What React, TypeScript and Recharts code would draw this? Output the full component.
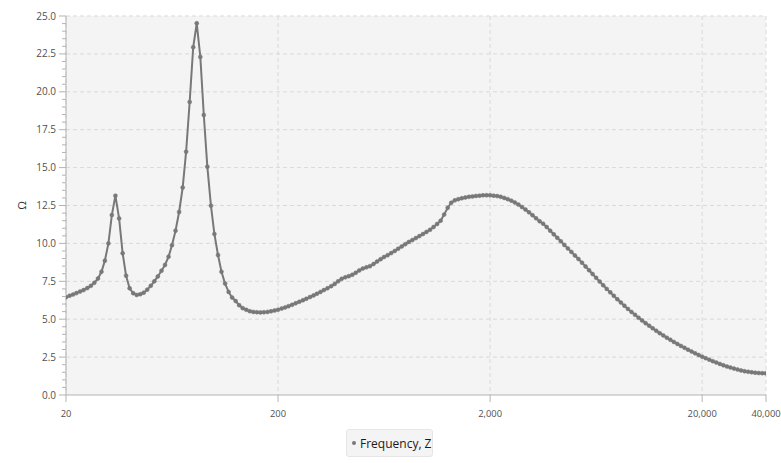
import { CartesianGrid, Line, LineChart, ReferenceLine, XAxis, YAxis } from "recharts";

// frequency (Hz), 60 points per decade
const frequencies = [
  20, 20.8, 21.6, 22.4, 23.3, 24.2, 25.2, 26.2, 27.2, 28.3,
  29.4, 30.5, 31.7, 32.9, 34.2, 35.6, 37.0, 38.4, 39.9, 41.5,
  43.1, 44.8, 46.5, 48.3, 50.2, 52.2, 54.2, 56.4, 58.6, 60.9,
  63.2, 65.7, 68.3, 71.0, 73.7, 76.6, 79.6, 82.7, 86.0, 89.3,
  92.8, 96.5, 100.2, 104.2, 108.2, 112.5, 116.9, 121.4, 126.2, 131.1,
  136.3, 141.6, 147.1, 152.9, 158.9, 165.1, 171.5, 178.3, 185.2, 192.5,
  200, 208, 216, 224, 233, 242, 252, 262, 272, 283,
  294, 305, 317, 329, 342, 356, 370, 384, 399, 415,
  431, 448, 465, 483, 502, 522, 542, 564, 586, 609,
  632, 657, 683, 710, 737, 766, 796, 827, 860, 893,
  928, 965, 1002, 1042, 1082, 1125, 1169, 1214, 1262, 1311,
  1363, 1416, 1471, 1529, 1589, 1651, 1715, 1783, 1852, 1925,
  2000, 2078, 2160, 2244, 2332, 2423, 2518, 2616, 2719, 2825,
  2936, 3051, 3170, 3294, 3423, 3557, 3696, 3840, 3991, 4147,
  4309, 4477, 4653, 4835, 5024, 5220, 5425, 5637, 5857, 6086,
  6325, 6572, 6829, 7096, 7374, 7662, 7962, 8274, 8597, 8934,
  9283, 9646, 10024, 10416, 10823, 11247, 11687, 12144, 12619, 13113,
  13626, 14159, 14713, 15289, 15887, 16508, 17154, 17825, 18522, 19247,
  20000, 20783, 21596, 22441, 23318, 24231, 25179, 26164, 27188, 28251,
  29356, 30505, 31698, 32938, 34227, 35566, 36957, 38403, 39905,
];

// impedance (Ω)
const impedance = [
  6.45, 6.55, 6.63, 6.72, 6.82, 6.92, 7.05, 7.2, 7.4, 7.68,
  8.13, 8.86, 10.0, 11.87, 13.15, 11.65, 9.35, 7.87, 7.04, 6.71,
  6.6, 6.65, 6.75, 6.95, 7.2, 7.5, 7.82, 8.2, 8.58, 9.12,
  9.88, 10.84, 12.07, 13.68, 16.05, 19.33, 22.94, 24.52, 22.3, 18.47,
  15.06, 12.49, 10.62, 9.23, 8.13, 7.35, 6.8, 6.43, 6.2, 5.92,
  5.73, 5.62, 5.53, 5.48, 5.46, 5.45, 5.46, 5.48, 5.52, 5.57,
  5.63, 5.7, 5.78, 5.86, 5.95, 6.05, 6.15, 6.25, 6.35, 6.46,
  6.57, 6.68, 6.8, 6.92, 7.04, 7.18, 7.33, 7.5, 7.66, 7.76,
  7.84, 7.93, 8.06, 8.22, 8.34, 8.42, 8.5, 8.64, 8.8, 8.96,
  9.1, 9.22, 9.36, 9.5, 9.65, 9.8, 9.95, 10.1, 10.22, 10.35,
  10.48, 10.62, 10.76, 10.9, 11.08, 11.28, 11.5, 11.9, 12.35, 12.68,
  12.84, 12.92, 12.98, 13.03, 13.07, 13.1, 13.13, 13.15, 13.17, 13.18,
  13.17, 13.15, 13.12, 13.07, 13.0, 12.92, 12.82, 12.7, 12.56, 12.4,
  12.23, 12.05, 11.86, 11.66, 11.46, 11.3, 11.08, 10.84, 10.6, 10.37,
  10.14, 9.9, 9.67, 9.44, 9.2, 8.97, 8.73, 8.48, 8.23, 7.98,
  7.73, 7.48, 7.24, 7.0, 6.77, 6.54, 6.32, 6.1, 5.89, 5.68,
  5.48, 5.29, 5.1, 4.92, 4.74, 4.57, 4.4, 4.24, 4.08, 3.93,
  3.78, 3.64, 3.5, 3.37, 3.24, 3.11, 2.99, 2.87, 2.75, 2.64,
  2.53, 2.43, 2.33, 2.23, 2.14, 2.05, 1.96, 1.88, 1.81, 1.74,
  1.68, 1.62, 1.57, 1.53, 1.5, 1.47, 1.45, 1.44, 1.43,
];

const xTicks = [20, 200, 2000, 20000, 40000];
const yMajorTicks = [0, 2.5, 5, 7.5, 10, 12.5, 15, 17.5, 20, 22.5, 25];
const yAllTicks = [
  0, 0.5, 1, 1.5, 2, 2.5, 3, 3.5, 4, 4.5, 5, 5.5, 6, 6.5, 7, 7.5, 8, 8.5, 9, 9.5,
  10, 10.5, 11, 11.5, 12, 12.5, 13, 13.5, 14, 14.5, 15, 15.5, 16, 16.5, 17, 17.5,
  18, 18.5, 19, 19.5, 20, 20.5, 21, 21.5, 22, 22.5, 23, 23.5, 24, 24.5, 25,
];

const FONT = "'Open Sans', sans-serif";
const AXIS = "#b3b3b3";
const GRID = "#d9d9d9";
const SERIES = "#787878";

const data = frequencies.map((f, i) => ({ f, z: impedance[i] }));

function YTick({ x, y, payload }: any) {
  const v = payload.value as number;
  const major = yMajorTicks.includes(v);
  return (
    <g>
      <line x1={x - (major ? 7 : 4)} x2={x} y1={y} y2={y} stroke={AXIS} />
      {major && (
        <text x={x - 10} y={y} dy="0.35em" textAnchor="end" fontSize={10} fill="#505050" fontFamily={FONT}>
          {v.toFixed(1)}
        </text>
      )}
    </g>
  );
}

export default function App() {
  // fixed at the page origin so the body margin causes no overflow
  return (
    <div style={{ position: "fixed", left: 0, top: 0, width: 781, height: 463, fontFamily: FONT, background: "#fff" }}>
      <LineChart width={781} height={455} data={data} margin={{ top: 16, right: 15, bottom: 30, left: 0 }}>
        <CartesianGrid horizontal={false} stroke={GRID} strokeDasharray="4 3" fill="#f4f4f4" />
        {yMajorTicks.slice(1).map((v) => (
          <ReferenceLine key={v} y={v} stroke={GRID} strokeDasharray="4 3" />
        ))}
        <XAxis
          dataKey="f"
          type="number"
          scale="log"
          domain={[20, 40000]}
          ticks={xTicks}
          interval={0}
          allowDataOverflow
          height={30}
          tickSize={7}
          tickMargin={8}
          tickFormatter={(v: number) => v.toLocaleString("en-US")}
          tick={{ fontSize: 9.4, fill: "#505050", fontFamily: FONT }}
          axisLine={{ stroke: AXIS }}
          tickLine={{ stroke: AXIS }}
        />
        <YAxis
          type="number"
          domain={[0, 25]}
          ticks={yAllTicks}
          interval={0}
          width={66}
          tickSize={0}
          tickMargin={0}
          tick={<YTick />}
          tickLine={false}
          axisLine={{ stroke: AXIS }}
          label={({ viewBox }: any) => (
            <text
              x={viewBox.x + 22}
              y={viewBox.y + viewBox.height / 2}
              transform={`rotate(-90 ${viewBox.x + 22} ${viewBox.y + viewBox.height / 2})`}
              textAnchor="middle"
              dy="0.35em"
              fontSize={11}
              fill="#333"
              fontFamily={FONT}
            >
              Ω
            </text>
          )}
        />
        <Line
          dataKey="z"
          name="Frequency, Z"
          type="linear"
          stroke={SERIES}
          strokeWidth={2}
          dot={{ r: 2, fill: SERIES, stroke: SERIES, strokeWidth: 0.5 }}
          isAnimationActive={false}
        />
      </LineChart>
      <div
        style={{
          position: "absolute",
          left: 346,
          top: 429,
          width: 87,
          height: 28,
          boxSizing: "border-box",
          background: "#f4f4f4",
          border: "1px solid #e6e6e6",
          borderRadius: 3,
          display: "flex",
          alignItems: "center",
          paddingLeft: 5,
          fontSize: 12,
          color: "#1a1a1a",
          whiteSpace: "nowrap",
        }}
      >
        <span
          style={{ display: "inline-block", width: 4, height: 4, borderRadius: 2, background: SERIES, marginRight: 4 }}
        />
        Frequency, Z
      </div>
    </div>
  );
}
